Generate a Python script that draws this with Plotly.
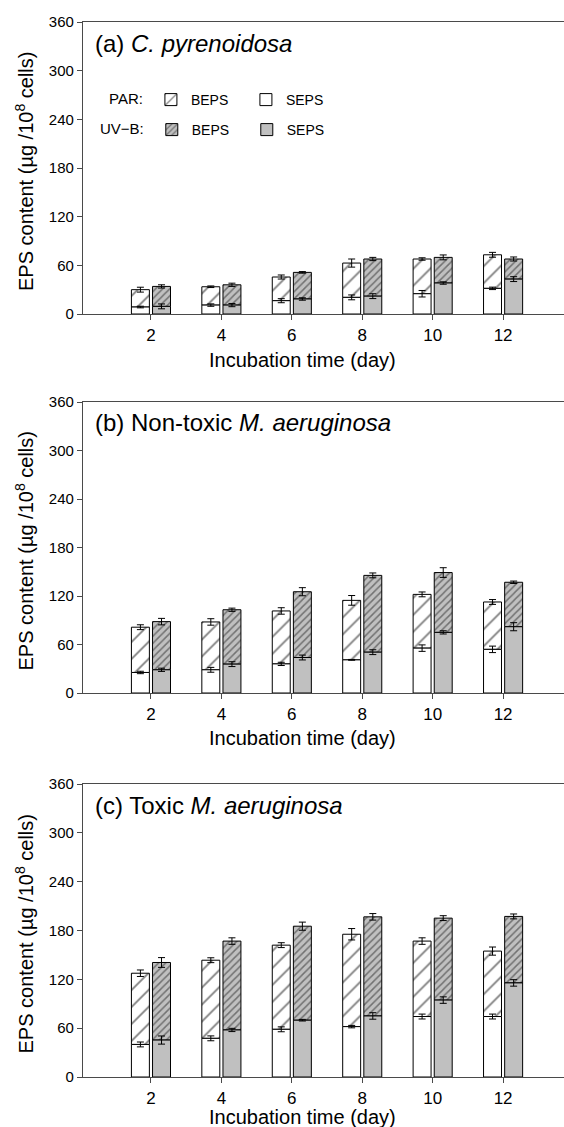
import plotly.graph_objects as go

days = [2, 4, 6, 8, 10, 12]

# Panel (a) C. pyrenoidosa
a_par_seps = [8.6, 11.0, 16.4, 20.5, 25.0, 31.6]
a_par_seps_err = [1.0, 1.5, 2.5, 3.0, 4.0, 1.5]
a_par_beps = [21.4, 22.6, 29.2, 42.3, 42.8, 41.4]
a_par_total_err = [3.0, 1.0, 2.5, 5.0, 1.5, 3.0]
a_uv_seps = [9.4, 11.0, 18.5, 22.0, 38.2, 43.0]
a_uv_seps_err = [3.0, 2.0, 1.5, 3.0, 1.5, 3.0]
a_uv_beps = [24.6, 25.0, 32.8, 45.8, 31.6, 24.8]
a_uv_total_err = [2.0, 2.0, 1.0, 2.0, 3.0, 2.5]

# Panel (b) Non-toxic M. aeruginosa
b_par_seps = [25.4, 28.7, 36.0, 41.0, 55.5, 54.0]
b_par_seps_err = [1.5, 3.0, 2.0, 0.5, 4.0, 4.0]
b_par_beps = [56.0, 59.2, 65.5, 73.6, 66.5, 58.6]
b_par_total_err = [3.0, 4.0, 4.0, 6.0, 3.0, 3.0]
b_uv_seps = [28.7, 35.7, 43.9, 50.5, 75.0, 82.0]
b_uv_seps_err = [2.0, 3.0, 3.0, 3.0, 2.0, 5.0]
b_uv_beps = [59.6, 67.3, 81.4, 95.0, 74.0, 55.0]
b_uv_total_err = [4.0, 2.0, 5.0, 3.0, 6.0, 1.5]

# Panel (c) Toxic M. aeruginosa
c_par_seps = [40.0, 47.5, 58.6, 61.9, 74.3, 74.3]
c_par_seps_err = [3.0, 3.0, 3.0, 1.5, 3.0, 3.0]
c_par_beps = [87.5, 96.0, 103.4, 113.5, 92.7, 80.4]
c_par_total_err = [4.0, 3.0, 3.0, 7.0, 4.0, 5.0]
c_uv_seps = [45.4, 57.8, 69.8, 75.0, 94.5, 115.6]
c_uv_seps_err = [5.0, 2.0, 1.0, 4.0, 4.0, 4.0]
c_uv_beps = [95.3, 109.2, 115.5, 121.8, 100.7, 81.7]
c_uv_total_err = [6.0, 4.0, 5.0, 4.0, 3.0, 3.0]

panel_titles = ["(a) <i>C. pyrenoidosa</i>",
                "(b) Non-toxic <i>M. aeruginosa</i>",
                "(c) Toxic <i>M. aeruginosa</i>"]
x_title = "Incubation time (day)"
y_title = "EPS content (µg /10<sup>8</sup> cells)"
y_ticks = [0, 60, 120, 180, 240, 300, 360]

panels = [
    (a_par_seps, a_par_seps_err, a_par_beps, a_par_total_err,
     a_uv_seps, a_uv_seps_err, a_uv_beps, a_uv_total_err),
    (b_par_seps, b_par_seps_err, b_par_beps, b_par_total_err,
     b_uv_seps, b_uv_seps_err, b_uv_beps, b_uv_total_err),
    (c_par_seps, c_par_seps_err, c_par_beps, c_par_total_err,
     c_uv_seps, c_uv_seps_err, c_uv_beps, c_uv_total_err),
]

FONT = "Liberation Sans, Arial, sans-serif"
AXC = "#4a4a4a"
GRAY = "#c0c0c0"
BW = 0.51
OFF = 0.3

fig = go.Figure()


def err(arr):
    return dict(type="data", array=arr, visible=True,
                color="black", thickness=1, width=3.5)


for i, (ps, pse, pb, pte, us, use, ub, ute) in enumerate(panels):
    xa = "x" if i == 0 else f"x{i+1}"
    ya = "y" if i == 0 else f"y{i+1}"
    xp = [d - OFF for d in days]
    xu = [d + OFF for d in days]
    show = i == 0
    fig.add_trace(go.Bar(
        x=xp, y=pb, base=ps, width=BW, name="BEPS", xaxis=xa, yaxis=ya,
        marker=dict(color="white", line=dict(color="black", width=1),
                    pattern=dict(shape="/", fgcolor="black", bgcolor="white",
                                 size=12, solidity=0.15)),
        error_y=err(pte), legend="legend", showlegend=show, legendrank=1))
    fig.add_trace(go.Bar(
        x=xu, y=ub, base=us, width=BW, name="BEPS", xaxis=xa, yaxis=ya,
        marker=dict(color=GRAY, line=dict(color="black", width=1),
                    pattern=dict(shape="/", fgcolor="#222222", bgcolor=GRAY,
                                 size=5, solidity=0.3)),
        error_y=err(ute), legend="legend2", showlegend=show, legendrank=1))
    fig.add_trace(go.Bar(
        x=xp, y=ps, width=BW, name="SEPS", xaxis=xa, yaxis=ya,
        marker=dict(color="white", line=dict(color="black", width=1)),
        error_y=err(pse), legend="legend", showlegend=show, legendrank=2))
    fig.add_trace(go.Bar(
        x=xu, y=us, width=BW, name="SEPS", xaxis=xa, yaxis=ya,
        marker=dict(color=GRAY, line=dict(color="black", width=1)),
        error_y=err(use), legend="legend2", showlegend=show, legendrank=2))

H = 1127.0
W = 564.0
px_dom = [(22, 314), (402, 693), (784, 1077)]
xtitle_off = [46, 45, 40]
xdom = [83 / W, 1.0]

layout = dict(
    width=564, height=1127,
    margin=dict(l=0, r=0, t=0, b=0, autoexpand=False),
    paper_bgcolor="white", plot_bgcolor="white",
    barmode="overlay",
    font=dict(family=FONT, color="black"),
    showlegend=True,
)

for i, (top, bot) in enumerate(px_dom):
    sx = "" if i == 0 else str(i + 1)
    layout[f"xaxis{sx}"] = dict(
        domain=xdom, range=[0.07, 13.73], anchor=f"y{sx}",
        tickvals=days, ticktext=[str(d) for d in days],
        ticks="outside", ticklen=5, tickcolor=AXC, tickwidth=1,
        showline=True, linecolor=AXC, linewidth=1.2, mirror=True,
        showgrid=False, zeroline=False, automargin=False,
        tickfont=dict(size=17, family=FONT, color="black"),
    )
    layout[f"yaxis{sx}"] = dict(
        domain=[1 - bot / H, 1 - top / H], range=[0, 360], anchor=f"x{sx}",
        tickvals=y_ticks, ticks="outside", ticklen=5, tickcolor=AXC,
        tickwidth=1, showline=True, linecolor=AXC, linewidth=1.2,
        showgrid=False, zeroline=False, automargin=False,
        tickfont=dict(size=15, family=FONT, color="black"),
    )

fig.update_layout(**layout)

for i, t in enumerate(panel_titles):
    top, bot = px_dom[i]
    fig.add_annotation(
        text=t, xref="paper", yref="paper",
        x=93 / W, y=1 - (top + 21) / H, xanchor="left", yanchor="middle",
        showarrow=False, font=dict(size=24, family=FONT, color="black"))
    # x-axis title
    fig.add_annotation(
        text=x_title, xref="paper", yref="paper",
        x=302 / W, y=1 - (bot + xtitle_off[i]) / H, xanchor="center",
        yanchor="middle", showarrow=False,
        font=dict(size=20, family=FONT, color="black"))
    # y-axis title
    fig.add_annotation(
        text=y_title, xref="paper", yref="paper", textangle=-90,
        x=24 / W, y=1 - ((top + bot) / 2 + 4) / H, xanchor="center",
        yanchor="middle", showarrow=False,
        font=dict(size=20, family=FONT, color="black"))

fig.update_layout(
    legend=dict(title=dict(text="PAR:", side="left",
                           font=dict(size=15, family=FONT)),
                orientation="h", x=107 / W, y=1 - 100 / H,
                xanchor="left", yanchor="middle",
                bgcolor="rgba(0,0,0,0)", font=dict(size=14, family=FONT),
                entrywidth=50, entrywidthmode="pixels", traceorder="normal"),
    legend2=dict(title=dict(text="UV\u2212B:", side="left",
                            font=dict(size=15, family=FONT)),
                 orientation="h", x=98 / W, y=1 - 130 / H,
                 xanchor="left", yanchor="middle",
                 bgcolor="rgba(0,0,0,0)", font=dict(size=14, family=FONT),
                 entrywidth=50, entrywidthmode="pixels", traceorder="normal"),
)

fig.write_html("out.html")
